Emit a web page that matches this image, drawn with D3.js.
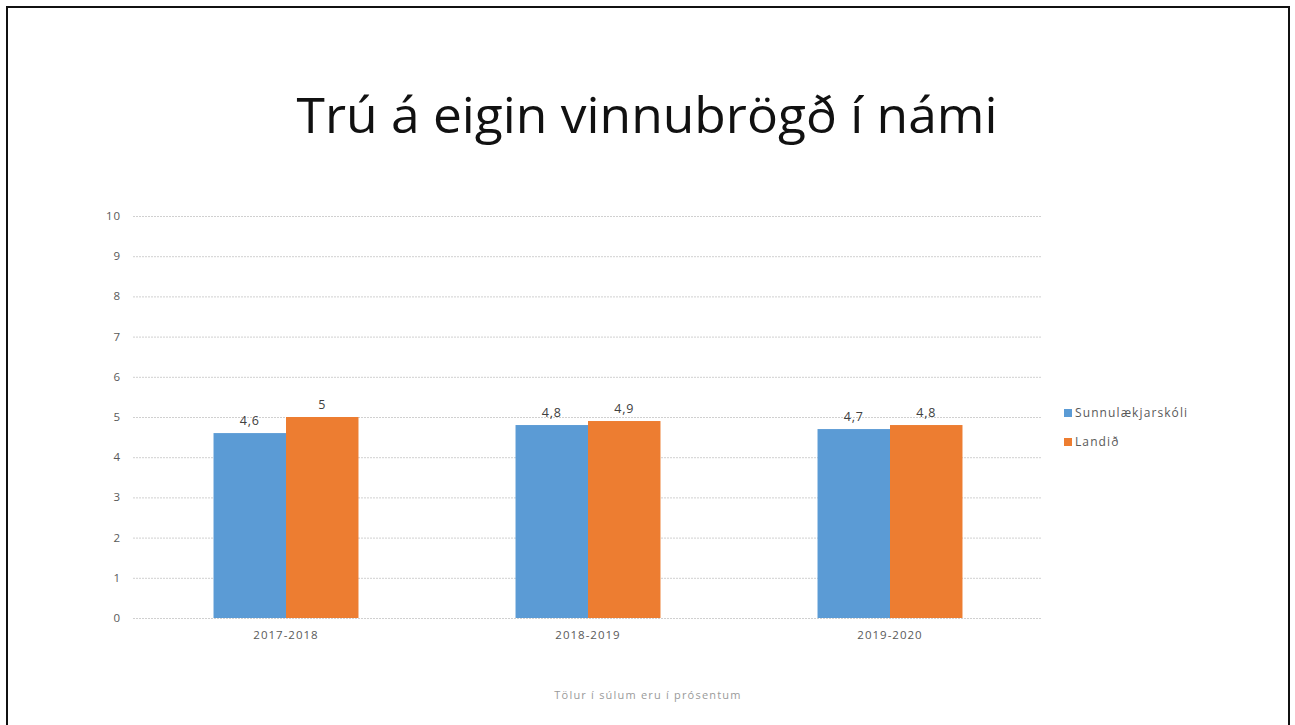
<!DOCTYPE html>
<html lang="is">
<head>
    <meta charset="UTF-8">
    <title>Trú á eigin vinnubrögð í námi</title>
    <style>
        html, body { margin: 0; padding: 0; background: #fff; }
        svg { display: block; font-family: "Open Sans", "Noto Sans", sans-serif; }
        .grid line { stroke: #d0d0d0; stroke-dasharray: 2,1; }
        .tick-label { fill: #595959; font-size: 11.5px; letter-spacing: 0.9px; }
    </style>
</head>
<body>
    <script src="https://d3js.org/d3.v7.min.js"></script>
    <script>
        const categories = ["2017-2018", "2018-2019", "2019-2020"];
        const seriesNames = ["Sunnulækjarskóli", "Landið"];
        const sunnulaekjarskoli = [4.6, 4.8, 4.7];
        const landid = [5, 4.9, 4.8];
        const yTicks = [0, 1, 2, 3, 4, 5, 6, 7, 8, 9, 10];
        const colors = ["#5b9bd5", "#ed7d31"];

        const W = 1295, H = 725;
        const plot = { left: 135, right: 1041, top: 216, bottom: 618 };

        const svg = d3.select("body").append("svg")
            .attr("width", W)
            .attr("height", H);

        // slide frame
        svg.append("rect")
            .attr("x", 7).attr("y", 7)
            .attr("width", 1282).attr("height", 730)
            .attr("fill", "#fff")
            .attr("stroke", "#111")
            .attr("stroke-width", 2);

        svg.append("text")
            .attr("x", 647).attr("y", 133)
            .attr("text-anchor", "middle")
            .attr("font-size", 50)
            .attr("fill", "#111")
            .attr("textLength", 701)
            .attr("lengthAdjust", "spacingAndGlyphs")
            .text("Trú á eigin vinnubrögð í námi");

        const x0 = d3.scaleBand().domain(categories).range([plot.left, plot.right]).padding(0);
        const bw = x0.bandwidth();
        const x1 = d3.scaleBand().domain(seriesNames).range([bw * 0.26, bw * 0.74]).padding(0);
        const y = d3.scaleLinear().domain([0, 10]).range([plot.bottom, plot.top]);

        // gridlines
        svg.append("g").attr("class", "grid")
            .selectAll("line").data(yTicks).enter().append("line")
            .attr("x1", plot.left - 2).attr("x2", plot.right)
            .attr("y1", d => y(d) + 0.5).attr("y2", d => y(d) + 0.5);

        svg.append("g").selectAll("text").data(yTicks).enter().append("text")
            .attr("class", "tick-label")
            .attr("x", plot.left - 14)
            .attr("y", d => y(d))
            .attr("dy", "0.35em")
            .attr("text-anchor", "end")
            .text(d => d);

        const rows = categories.map((c, i) => ({
            cat: c,
            vals: [sunnulaekjarskoli[i], landid[i]]
        }));

        const group = svg.append("g").selectAll("g").data(rows).enter().append("g")
            .attr("transform", d => `translate(${x0(d.cat)},0)`);

        group.selectAll("rect")
            .data(d => d.vals.map((v, j) => ({ name: seriesNames[j], v: v, j: j })))
            .enter().append("rect")
            .attr("x", d => x1(d.name))
            .attr("y", d => y(d.v))
            .attr("width", x1.bandwidth())
            .attr("height", d => y(0) - y(d.v))
            .attr("fill", d => colors[d.j]);

        group.selectAll("text.lbl")
            .data(d => d.vals.map((v, j) => ({ name: seriesNames[j], v: v })))
            .enter().append("text")
            .attr("class", "lbl")
            .attr("x", d => x1(d.name) + x1.bandwidth() / 2)
            .attr("y", d => y(d.v) - 8)
            .attr("text-anchor", "middle")
            .attr("font-size", 12.5)
            .attr("letter-spacing", "0.8px")
            .attr("fill", "#404040")
            .text(d => String(d.v).replace(".", ","));

        svg.append("g").selectAll("text").data(categories).enter().append("text")
            .attr("class", "tick-label")
            .attr("x", d => x0(d) + bw / 2)
            .attr("y", plot.bottom + 21)
            .attr("text-anchor", "middle")
            .attr("font-size", 12)
            .style("letter-spacing", "1px")
            .text(d => d);

        // legend
        const leg = svg.append("g").selectAll("g").data(seriesNames).enter().append("g")
            .attr("transform", (d, i) => `translate(1064,${409 + i * 29})`);
        leg.append("rect").attr("width", 8).attr("height", 8)
            .attr("fill", (d, i) => colors[i]);
        leg.append("text")
            .attr("x", 11).attr("y", 4)
            .attr("dy", "0.35em")
            .attr("font-size", 12)
            .attr("letter-spacing", "1.1px")
            .attr("fill", "#595959")
            .text(d => d);

        svg.append("text")
            .attr("x", 648).attr("y", 699)
            .attr("text-anchor", "middle")
            .attr("font-size", 11)
            .attr("letter-spacing", "1.2px")
            .attr("fill", "#9a9a9a")
            .text("Tölur í súlum eru í prósentum");
    </script>
</body>
</html>
